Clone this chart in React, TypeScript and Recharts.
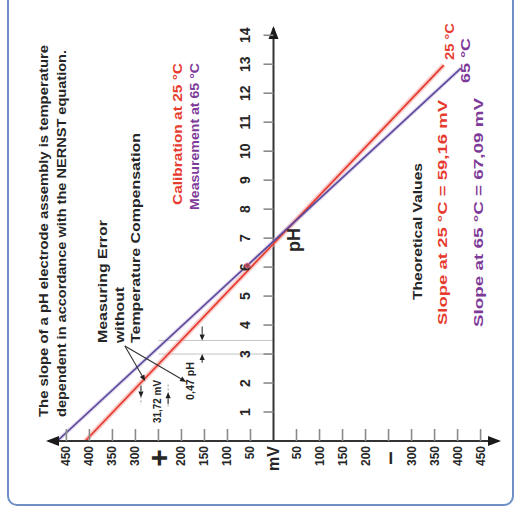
import React from 'react';
import { LineChart, Line, XAxis, YAxis, ReferenceLine, ReferenceDot } from 'recharts';

const FONT = '"Liberation Sans", Arial, Helvetica, sans-serif';
const RED = '#e63b2e';
const PURPLE_LINE = '#5b4a9c';
const PURPLE_TEXT = '#7e3a99';
const DARK = '#262626';

// mV axis (horizontal in the picture, positive to the left)
const mvTicks = [450, 400, 350, 300, 250, 200, 150, 100, 50, 0, -50, -100, -150, -200, -250, -300, -350, -400, -450];
const mvTickLabels = ['450', '400', '350', '300', '+', '200', '150', '100', '50', 'mV', '50', '100', '150', '200', '\u2013', '300', '350', '400', '450'];
// pH axis (vertical in the picture)
const phTicks = [1, 2, 3, 4, 5, 6, 7, 8, 9, 10, 11, 12, 13, 14];

// electrode response lines
const cal25 = [
  { mv: 409, ph: 0 },
  { mv: -370, ph: 12.97 },
];
const meas65 = [
  { mv: 470, ph: 0 },
  { mv: -407, ph: 12.86 },
];

// measuring-error construction
const errorPhLevels = [3.0, 3.47];
const errorMv = 250;

type P = { mv: number; ph: number };
const pointerArrows: { from: P; to: P }[] = [
  { from: { mv: 323, ph: 3.28 }, to: { mv: 279, ph: 2.07 } },
  { from: { mv: 323, ph: 3.28 }, to: { mv: 190, ph: 2.04 } },
  { from: { mv: 155, ph: 3.95 }, to: { mv: 155, ph: 3.47 } },
  { from: { mv: 155, ph: 2.7 }, to: { mv: 155, ph: 3.0 } },
  { from: { mv: 288, ph: 1.9 }, to: { mv: 288, ph: 1.5 } },
  { from: { mv: 229, ph: 1.28 }, to: { mv: 229, ph: 1.68 } },
];
const dottedMarks: { from: P; to: P }[] = [
  { from: { mv: 288, ph: 1.95 }, to: { mv: 288, ph: 1.25 } },
  { from: { mv: 229, ph: 1.95 }, to: { mv: 229, ph: 1.2 } },
];

const arrowShape = (p: any) => {
  const { x1, y1, x2, y2 } = p;
  const ang = Math.atan2(y2 - y1, x2 - x1);
  const L = 6;
  const W = 2.6;
  const bx = x2 - L * Math.cos(ang);
  const by = y2 - L * Math.sin(ang);
  const px = -Math.sin(ang) * W;
  const py = Math.cos(ang) * W;
  return (
    <g>
      <line x1={x1} y1={y1} x2={bx} y2={by} stroke="#333" strokeWidth={1.1} />
      <polygon points={`${x2},${y2} ${bx + px},${by + py} ${bx - px},${by - py}`} fill="#1e1e1e" />
    </g>
  );
};

const MvTick = (props: any) => {
  const { x, y, payload } = props;
  const i = mvTicks.indexOf(payload.value);
  const label = mvTickLabels[i];
  const isSign = label === '+' || label === '\u2013';
  const isUnit = label === 'mV';
  return (
    <g>
      {payload.value !== 0 && (
        <line x1={x} x2={x} y1={y - 12} y2={y} stroke="#8a8a8a" strokeWidth={1.6} />
      )}
      {isSign ? (
        <text
          x={x}
          y={y + 17}
          transform={`rotate(-90 ${x} ${y + 17})`}
          textAnchor="middle"
          dominantBaseline="central"
          fontFamily={FONT}
          fontWeight="bold"
          fontSize={label === '+' ? 30 : 24}
          fill={DARK}
        >
          {label}
        </text>
      ) : (
        <text
          x={x}
          y={y + 5}
          transform={`rotate(-90 ${x} ${y + 5})`}
          textAnchor="end"
          dominantBaseline="central"
          fontFamily={FONT}
          fontWeight="bold"
          fontSize={isUnit ? 16 : 12}
          fill={DARK}
        >
          {label}
        </text>
      )}
    </g>
  );
};

const PhTick = (value: number) => (p: any) => {
  const { cx, cy } = p;
  return (
    <g>
      <line x1={cx - 10} x2={cx} y1={cy} y2={cy} stroke="#8a8a8a" strokeWidth={1.6} />
      <text
        x={cx - 28}
        y={cy}
        transform={`rotate(-90 ${cx - 28} ${cy})`}
        textAnchor="middle"
        dominantBaseline="central"
        fontFamily={FONT}
        fontWeight="bold"
        fontSize={14}
        fill={DARK}
      >
        {value}
      </text>
    </g>
  );
};

const arrowHead = (dir: 'left' | 'right' | 'up') => (p: any) => {
  const { cx, cy } = p;
  let pts = '';
  if (dir === 'left') pts = `${cx - 2},${cy} ${cx + 11},${cy - 5} ${cx + 11},${cy + 5}`;
  if (dir === 'right') pts = `${cx + 2},${cy} ${cx - 11},${cy - 5} ${cx - 11},${cy + 5}`;
  if (dir === 'up') pts = `${cx},${cy - 2} ${cx - 5},${cy + 11} ${cx + 5},${cy + 11}`;
  return <polygon points={pts} fill="#1a1a1a" />;
};

const VText = ({ x, y, anchor = 'start', size = 12.5, color = DARK, len, children }: any) => (
  <text
    x={x}
    y={y}
    transform={`rotate(-90 ${x} ${y})`}
    textAnchor={anchor}
    dominantBaseline="central"
    fontFamily={FONT}
    fontWeight="bold"
    fontSize={size}
    fill={color}
    textLength={len}
    lengthAdjust={len ? 'spacingAndGlyphs' : undefined}
  >
    {children}
  </text>
);

export default function App() {
  return (
    <div style={{ position: 'absolute', left: 0, top: 0, width: 515, height: 517, background: '#fff', overflow: 'hidden' }}>
      <div
        style={{
          position: 'absolute',
          left: 7,
          top: -12,
          width: 507,
          height: 518,
          boxSizing: 'border-box',
          border: '2px solid #6f8fc6',
          borderRadius: 10,
        }}
      />
      <div style={{ position: 'absolute', left: 0, top: 0 }}>
        <LineChart width={515} height={517} margin={{ top: 28, right: 16, bottom: 36, left: 48 }}>
          <XAxis
            type="number"
            dataKey="mv"
            domain={[-490, 490]}
            reversed
            allowDataOverflow
            ticks={mvTicks}
            interval={0}
            tickSize={0}
            tickMargin={0}
            height={40}
            tick={<MvTick />}
            axisLine={{ stroke: '#333', strokeWidth: 2 }}
            tickLine={false}
          />
          <YAxis type="number" dataKey="ph" domain={[0, 14.25]} allowDataOverflow hide />

          {errorPhLevels.map((ph) => (
            <ReferenceLine
              key={'err' + ph}
              segment={[{ x: errorMv, y: ph }, { x: 0, y: ph }]}
              stroke="#c4c4c4"
              strokeWidth={1}
            />
          ))}

          <ReferenceLine x={0} stroke="#333" strokeWidth={2} />
          <ReferenceDot x={0} y={14.25} r={0} ifOverflow="visible" shape={arrowHead('up')} />
          <ReferenceDot x={490} y={0} r={0} ifOverflow="visible" shape={arrowHead('left')} />
          <ReferenceDot x={-490} y={0} r={0} ifOverflow="visible" shape={arrowHead('right')} />
          {phTicks.map((ph) => (
            <ReferenceDot key={'ph' + ph} x={0} y={ph} r={0} ifOverflow="visible" shape={PhTick(ph)} />
          ))}

          <Line data={cal25} dataKey="ph" stroke="#f4a3a0" strokeOpacity={0.55} strokeWidth={5} dot={false} isAnimationActive={false} />
          <Line data={meas65} dataKey="ph" stroke="#c9b6e0" strokeOpacity={0.5} strokeWidth={4} dot={false} isAnimationActive={false} />
          <Line data={cal25} dataKey="ph" stroke={RED} strokeWidth={1.7} dot={false} isAnimationActive={false} />
          <Line data={meas65} dataKey="ph" stroke={PURPLE_LINE} strokeWidth={1.7} dot={false} isAnimationActive={false} />

          <ReferenceDot x={57} y={6.05} r={2.5} fill="#a0405a" stroke="#d87080" ifOverflow="visible" />

          {dottedMarks.map((a, i) => (
            <ReferenceLine
              key={'dm' + i}
              segment={[{ x: a.from.mv, y: a.from.ph }, { x: a.to.mv, y: a.to.ph }]}
              stroke="#9a9a9a"
              strokeWidth={1}
              strokeDasharray="2 2"
            />
          ))}
          {pointerArrows.map((a, i) => (
            <ReferenceLine
              key={'pa' + i}
              segment={[{ x: a.from.mv, y: a.from.ph }, { x: a.to.mv, y: a.to.ph }]}
              shape={arrowShape}
              ifOverflow="visible"
            />
          ))}
        </LineChart>
      </div>
      <svg width={515} height={517} style={{ position: 'absolute', left: 0, top: 0, pointerEvents: 'none' }}>
        <VText x={44} y={417} len={372}>The slope of a pH electrode assembly is temperature</VText>
        <VText x={62} y={417} len={367}>dependent in accordance with the NERNST equation.</VText>

        <VText x={102} y={343} size={13.5} len={123}>Measuring Error</VText>
        <VText x={119} y={343} size={13.5} len={56}>without</VText>
        <VText x={135} y={343} size={13.5} len={210}>Temperature Compensation</VText>

        <VText x={177} y={205} size={13} color={RED} len={142}>Calibration at 25 °C</VText>
        <VText x={194} y={210} size={13} color={PURPLE_TEXT} len={147}>Measurement at 65 °C</VText>

        <VText x={157} y={423} size={10} len={43}>31,72 mV</VText>
        <VText x={190} y={400} size={10} len={38}>0,47 pH</VText>

        <VText x={294} y={240} anchor="middle" size={18}>pH</VText>

        <VText x={417} y={300} size={13} len={137}>Theoretical Values</VText>
        <VText x={442} y={325} size={13} color={RED} len={225}>Slope at 25 °C = 59,16 mV</VText>
        <VText x={478} y={327} size={13} color={PURPLE_TEXT} len={229}>Slope at 65 °C = 67,09 mV</VText>

        <VText x={449} y={60} size={13} color={RED} len={37}>25 °C</VText>
        <VText x={465} y={83} size={13} color={PURPLE_TEXT} len={45}>65 °C</VText>
      </svg>
    </div>
  );
}
